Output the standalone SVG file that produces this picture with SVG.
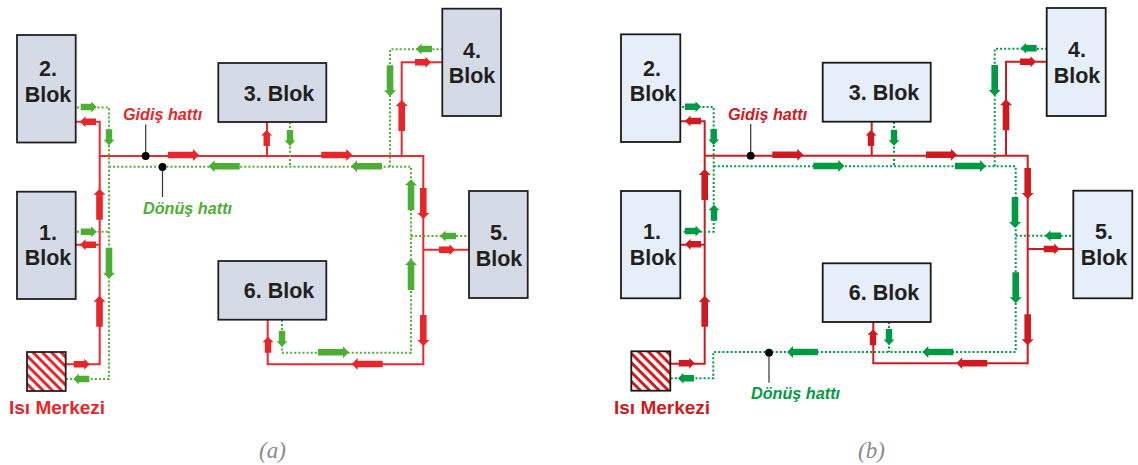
<svg xmlns="http://www.w3.org/2000/svg" width="1138" height="465" viewBox="0 0 1138 465">
<style>
text{font-family:"Liberation Sans",Arial,sans-serif;font-weight:700}
.ba{fill:#d5dbe6;stroke:#231f20;stroke-width:1.8}
.bb{fill:#e6eef9;stroke:#1a1a14;stroke-width:1.8}
.t{font-size:21.5px;fill:#231f20;text-anchor:middle}
.l{font-size:16.2px;font-style:italic}
.m{font-size:19px}
.cap{font-family:"Liberation Serif",serif;font-weight:400;font-style:italic;font-size:23px;fill:#8a8a8a}
.line{fill:none;stroke-width:2}
.dot{fill:none;stroke-width:2;stroke-dasharray:2 2.1}
.ra{stroke:#ea2a2e}.rb{stroke:#cf1a20}.ga{stroke:#4fb034}.gb{stroke:#009a44}
.fra{fill:#e8262a}.frb{fill:#cf1a20}.fga{fill:#4cae32}.fgb{fill:#009a44}
.lead{stroke:#333;stroke-width:1.2}
</style>
<defs>
<path id="al" d="M0 0L-6-6V-3.3H-31V3.3H-6V6Z"/>
<path id="as" d="M0 0L-5.5-5.5V-3.2H-16V3.2H-5.5V5.5Z"/>
<pattern id="ha" width="6.6" height="6.6" patternUnits="userSpaceOnUse" patternTransform="rotate(45)"><rect width="6.6" height="6.6" fill="#fff"/><rect width="6.6" height="3" fill="#e8262a"/></pattern>
<pattern id="hb" width="6.6" height="6.6" patternUnits="userSpaceOnUse" patternTransform="rotate(45)"><rect width="6.6" height="6.6" fill="#fff"/><rect width="6.6" height="3" fill="#cf1a20"/></pattern>
</defs>
<g id="connectors-a">
<path class="line ra" d="M66 364.3H99.7V121.7H76M99.7 156H423.3V364.3H267.7V320M76 244.7H99.7M267 122V156M401.7 156V62.3H442M423.3 249.7H469"/>
<path class="dot ga" d="M77 107.5H109V379H66M77 231.7H109M109 166.7H411V352.7H282V320M290 122V166.7M390 166.7V49.3H442M411 236H469"/>
<path class="lead" d="M145.7 124.5V156M162.5 167V197"/>
<circle cx="145.7" cy="156" r="3.9"/><circle cx="162.5" cy="167" r="3.9"/>
<g class="fra">
<use href="#as" transform="translate(89.7 364.3)"/>
<use href="#al" transform="translate(99.5 295.7) rotate(-90)"/>
<use href="#al" transform="translate(99.5 188.7) rotate(-90)"/>
<use href="#as" transform="translate(80 244.7) rotate(180)"/>
<use href="#as" transform="translate(80 121.7) rotate(180)"/>
<use href="#al" transform="translate(199 155)"/>
<use href="#as" transform="translate(266.7 130) rotate(-90)"/>
<use href="#al" transform="translate(352.3 155)"/>
<use href="#al" transform="translate(401.7 100) rotate(-90)"/>
<use href="#as" transform="translate(431 62.3)"/>
<use href="#al" transform="translate(423.3 219) rotate(90)"/>
<use href="#as" transform="translate(455 249.7)"/>
<use href="#al" transform="translate(423.3 346) rotate(90)"/>
<use href="#al" transform="translate(351.7 364) rotate(180)"/>
<use href="#as" transform="translate(268 336.7) rotate(-90)"/>
</g>
<g class="fga">
<use href="#as" transform="translate(96.7 107)"/>
<use href="#as" transform="translate(109 145.3) rotate(90)"/>
<use href="#as" transform="translate(96.7 231.7)"/>
<use href="#al" transform="translate(109 278.7) rotate(90)"/>
<use href="#as" transform="translate(73.3 379) rotate(180)"/>
<use href="#al" transform="translate(208.7 166.3) rotate(180)"/>
<use href="#as" transform="translate(290 146) rotate(90)"/>
<use href="#al" transform="translate(351 166.3) rotate(180)"/>
<use href="#al" transform="translate(390 96.3) rotate(90)"/>
<use href="#as" transform="translate(416 49) rotate(180)"/>
<use href="#al" transform="translate(411 179.3) rotate(-90)"/>
<use href="#as" transform="translate(440 236) rotate(180)"/>
<use href="#al" transform="translate(411 259) rotate(-90)"/>
<use href="#al" transform="translate(349 352.3)"/>
<use href="#as" transform="translate(282 346.7) rotate(90)"/>
</g>
</g>
<g id="a-blok2"><rect class="ba" x="17" y="35" width="58.7" height="107.5"/><text class="t" x="48" y="76">2.</text><text class="t" x="48" y="102">Blok</text></g>
<g id="a-blok1"><rect class="ba" x="17" y="191.7" width="58.7" height="107.3"/><text class="t" x="48" y="240">1.</text><text class="t" x="48" y="265">Blok</text></g>
<g id="a-blok3"><rect class="ba" x="218.3" y="63" width="108" height="59"/><text class="t" x="279" y="101">3. Blok</text></g>
<g id="a-blok4"><rect class="ba" x="442.3" y="8.7" width="58.7" height="107.3"/><text class="t" x="472" y="58">4.</text><text class="t" x="472" y="83">Blok</text></g>
<g id="a-blok5"><rect class="ba" x="469" y="191" width="58.7" height="107"/><text class="t" x="499" y="240">5.</text><text class="t" x="499" y="266">Blok</text></g>
<g id="a-blok6"><rect class="ba" x="218.3" y="261" width="108" height="58.7"/><text class="t" x="279" y="298">6. Blok</text></g>
<g id="a-isi"><rect x="27" y="352" width="38.7" height="39" fill="url(#ha)" stroke="#231f20" stroke-width="1.8"/><text class="m" x="9" y="414" fill="#e8262a">Isı Merkezi</text></g>
<text class="l" x="123" y="120" fill="#e8262a">Gidiş hattı</text>
<text class="l" x="143" y="214" fill="#4cae32">Dönüş hattı</text>
<text class="cap" x="259" y="458">(a)</text>

<g id="connectors-b">
<path class="line rb" d="M670 363.7H704.7V121.3H680M704.7 155.7H1027.7V363.3H873.3V322M680 244.7H704.7M871.7 122V155.7M1006 155.7V61.7H1046.7M1027.7 249H1073.3"/>
<path class="dot gb" d="M682 107H713.7V231.7H682M713.7 166.3H1015.7V352H713.3V378.3H671M894 122V166.3M994.7 166.3V48.7H1046.7M1015.7 235.7H1073M889 322V352"/>
<path class="lead" d="M750.7 124V155.7M769 352.7V382.7"/>
<circle cx="750.7" cy="155.7" r="3.9"/><circle cx="769" cy="352.7" r="3.9"/>
<g class="frb">
<use href="#as" transform="translate(694.7 363.3)"/>
<use href="#al" transform="translate(704.7 295.7) rotate(-90)"/>
<use href="#al" transform="translate(704.7 169) rotate(-90)"/>
<use href="#as" transform="translate(685 244.3) rotate(180)"/>
<use href="#as" transform="translate(685 121) rotate(180)"/>
<use href="#al" transform="translate(803.3 154.7)"/>
<use href="#as" transform="translate(871 130) rotate(-90)"/>
<use href="#al" transform="translate(957 154.7)"/>
<use href="#al" transform="translate(1006 99.3) rotate(-90)"/>
<use href="#as" transform="translate(1036 61.7)"/>
<use href="#al" transform="translate(1027.7 199) rotate(90)"/>
<use href="#as" transform="translate(1059.7 249)"/>
<use href="#al" transform="translate(1027.7 345.3) rotate(90)"/>
<use href="#al" transform="translate(956.3 363.3) rotate(180)"/>
<use href="#as" transform="translate(873 329.3) rotate(-90)"/>
</g>
<g class="fgb">
<use href="#as" transform="translate(701 106.7)"/>
<use href="#as" transform="translate(713.7 145) rotate(90)"/>
<use href="#as" transform="translate(714 204.7) rotate(-90)"/>
<use href="#as" transform="translate(701 231)"/>
<use href="#as" transform="translate(678 378.3) rotate(180)"/>
<use href="#al" transform="translate(844.3 166)"/>
<use href="#as" transform="translate(894 145.7) rotate(90)"/>
<use href="#al" transform="translate(986 166)"/>
<use href="#al" transform="translate(994.7 96) rotate(90)"/>
<use href="#as" transform="translate(1020.7 48.3) rotate(180)"/>
<use href="#al" transform="translate(1015 228) rotate(90)"/>
<use href="#as" transform="translate(1045 235.7) rotate(180)"/>
<use href="#al" transform="translate(1015.7 303.3) rotate(90)"/>
<use href="#al" transform="translate(922.3 352) rotate(180)"/>
<use href="#al" transform="translate(787 352) rotate(180)"/>
<use href="#as" transform="translate(889 345) rotate(90)"/>
</g>
</g>
<g id="b-blok2"><rect class="bb" x="621" y="34.3" width="59.3" height="107.7"/><text class="t" x="652" y="76">2.</text><text class="t" x="653" y="101">Blok</text></g>
<g id="b-blok1"><rect class="bb" x="621" y="191" width="59.3" height="107.3"/><text class="t" x="652" y="239">1.</text><text class="t" x="653" y="265">Blok</text></g>
<g id="b-blok3"><rect class="bb" x="822.7" y="62.7" width="108" height="59"/><text class="t" x="884" y="100">3. Blok</text></g>
<g id="b-blok4"><rect class="bb" x="1046.7" y="8" width="59" height="108"/><text class="t" x="1077" y="57">4.</text><text class="t" x="1077" y="83">Blok</text></g>
<g id="b-blok5"><rect class="bb" x="1073.3" y="190.7" width="59" height="107.6"/><text class="t" x="1104" y="239">5.</text><text class="t" x="1104" y="265">Blok</text></g>
<g id="b-blok6"><rect class="bb" x="822.7" y="263.3" width="108" height="58.7"/><text class="t" x="884" y="300">6. Blok</text></g>
<g id="b-isi"><rect x="631.3" y="351.3" width="39" height="39.4" fill="url(#hb)" stroke="#1a1a14" stroke-width="1.8"/><text class="m" x="614" y="414" fill="#cf1a20">Isı Merkezi</text></g>
<text class="l" x="728" y="120" fill="#cf1a20">Gidiş hattı</text>
<text class="l" x="751" y="399" fill="#009a44">Dönüş hattı</text>
<text class="cap" x="858" y="458">(b)</text>
</svg>
